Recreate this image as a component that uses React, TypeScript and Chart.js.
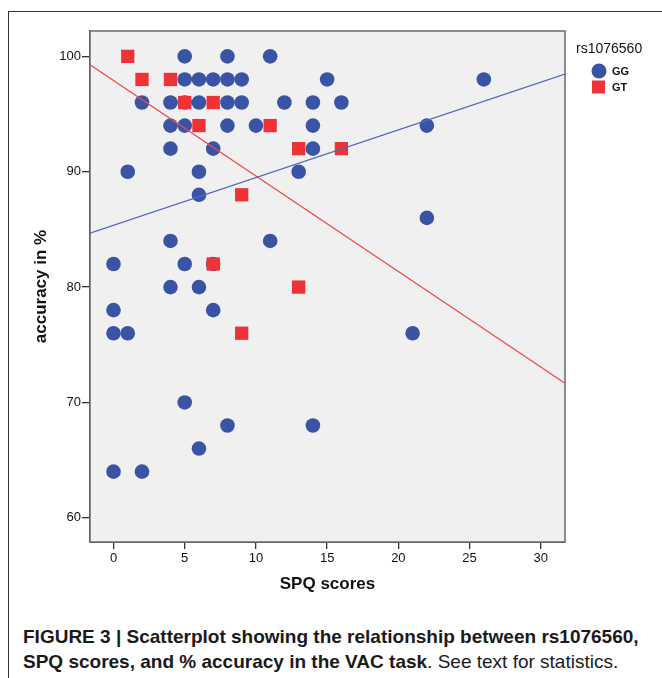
import React, { useEffect, useRef } from "react";
import { Chart, registerables } from "chart.js";

Chart.register(...registerables);

// ---- data ----
const GG_X = [5, 8, 11, 5, 6, 7, 8, 9, 15, 26, 2, 4, 5, 6, 8, 9, 12, 14, 16, 4, 5, 8, 10, 14, 22, 4, 7, 14, 1, 6, 13, 6, 22, 4, 11, 0, 5, 7, 4, 6, 0, 7, 0, 1, 21, 5, 8, 14, 6, 0, 2];
const GG_Y = [100, 100, 100, 98, 98, 98, 98, 98, 98, 98, 96, 96, 96, 96, 96, 96, 96, 96, 96, 94, 94, 94, 94, 94, 94, 92, 92, 92, 90, 90, 90, 88, 86, 84, 84, 82, 82, 82, 80, 80, 78, 78, 76, 76, 76, 70, 68, 68, 66, 64, 64];
const GT_X = [1, 2, 4, 5, 7, 6, 11, 13, 16, 9, 7, 13, 9];
const GT_Y = [100, 98, 98, 96, 96, 94, 94, 92, 92, 88, 82, 80, 76];

// fitted regression lines [slope, intercept]
const GG_FIT = [0.4135, 85.36];
const GT_FIT = [-0.828, 97.91];

const SERIES_NAMES = ["GG", "GT"];
const LEGEND_TITLE = "rs1076560";
const X_TICKS = [0, 5, 10, 15, 20, 25, 30];
const Y_TICKS = [60, 70, 80, 90, 100];
const X_MIN = -1.65;
const X_MAX = 31.7;
const Y_MIN = 57.9;
const Y_MAX = 102.2;
const X_TITLE = "SPQ scores";
const Y_TITLE = "accuracy in %";

const BLUE = "#3a54a5";
const RED = "#ee3238";
const FONT = "'Liberation Sans', Arial, Helvetica, sans-serif";

const zip = (xs: number[], ys: number[]) => xs.map((x, i) => ({ x, y: ys[i] }));
const fitLine = (f: number[]) => [
  { x: X_MIN, y: f[0] * X_MIN + f[1] },
  { x: X_MAX, y: f[0] * X_MAX + f[1] },
];

const frameAndLegend = {
  id: "frameAndLegend",
  beforeDatasetsDraw(chart: any) {
    const { ctx, chartArea: a } = chart;
    ctx.save();
    ctx.fillStyle = "#f0f0f0";
    ctx.fillRect(a.left, a.top, a.right - a.left, a.bottom - a.top);
    ctx.strokeStyle = "#6a6a6a";
    ctx.lineWidth = 1.5;
    ctx.strokeRect(a.left, a.top, a.right - a.left, a.bottom - a.top);
    ctx.restore();
  },
  afterDraw(chart: any) {
    const { ctx } = chart;
    ctx.save();
    ctx.fillStyle = "#111";
    ctx.textBaseline = "middle";
    ctx.textAlign = "left";
    ctx.font = `14px ${FONT}`;
    ctx.fillText(LEGEND_TITLE, 576, 49);
    const ds = chart.data.datasets.filter((d: any) => SERIES_NAMES.includes(d.label));
    ds.forEach((d: any, i: number) => {
      const cy = 71 + i * 16;
      ctx.fillStyle = d.backgroundColor;
      if (d.pointStyle === "rect") {
        ctx.fillRect(592, cy - 6.5, 13, 13);
      } else {
        ctx.beginPath();
        ctx.arc(599, cy, 7.5, 0, Math.PI * 2);
        ctx.fill();
      }
      ctx.fillStyle = "#111";
      ctx.font = `bold 11px ${FONT}`;
      ctx.fillText(d.label, 612, cy + 0.5);
    });
    ctx.restore();
  },
};

function ScatterChart() {
  const ref = useRef<HTMLCanvasElement | null>(null);
  useEffect(() => {
    if (!ref.current) return;
    const chart = new Chart(ref.current, {
      type: "scatter",
      data: {
        datasets: [
          {
            label: "GG fit",
            type: "line",
            data: fitLine(GG_FIT),
            borderColor: "#5069bb",
            borderWidth: 1.3,
            pointRadius: 0,
            fill: false,
            order: 0,
          } as any,
          {
            label: "GT fit",
            type: "line",
            data: fitLine(GT_FIT),
            borderColor: "#f04a50",
            borderWidth: 1.3,
            pointRadius: 0,
            fill: false,
            order: 0,
          } as any,
          {
            label: SERIES_NAMES[0],
            data: zip(GG_X, GG_Y),
            backgroundColor: BLUE,
            borderColor: BLUE,
            pointStyle: "circle",
            pointRadius: 7.3,
            pointBorderWidth: 0,
            order: 2,
          },
          {
            label: SERIES_NAMES[1],
            data: zip(GT_X, GT_Y),
            backgroundColor: RED,
            borderColor: RED,
            pointStyle: "rect",
            pointRadius: 9.4,
            pointBorderWidth: 0,
            order: 1,
          },
        ],
      },
      options: {
        animation: false,
        responsive: false,
        devicePixelRatio: 1,
        layout: { padding: { left: 0, top: 31, right: 97, bottom: 0 } },
        plugins: { legend: { display: false }, tooltip: { enabled: false } },
        font: { family: FONT },
        scales: {
          x: {
            type: "linear",
            min: X_MIN,
            max: X_MAX,
            afterBuildTicks: (s: any) => {
              s.ticks = X_TICKS.map((v) => ({ value: v }));
            },
            afterFit: (s: any) => {
              s.height = 68;
            },
            grid: { drawOnChartArea: false, drawTicks: true, tickLength: 7, color: "#333", lineWidth: 1.3 },
            border: { display: true, color: "#555", width: 1 },
            ticks: { color: "#111", font: { family: FONT, size: 13 }, padding: 2, maxRotation: 0 },
            title: {
              display: true,
              text: X_TITLE,
              color: "#111",
              font: { family: FONT, size: 17, weight: "bold" },
              padding: { top: 0, bottom: 15 },
            },
          },
          y: {
            type: "linear",
            min: Y_MIN,
            max: Y_MAX,
            afterBuildTicks: (s: any) => {
              s.ticks = Y_TICKS.map((v) => ({ value: v }));
            },
            afterFit: (s: any) => {
              s.width = 90;
            },
            grid: { drawOnChartArea: false, drawTicks: true, tickLength: 8, color: "#333", lineWidth: 1.3 },
            border: { display: true, color: "#444", width: 1.3 },
            ticks: { color: "#111", font: { family: FONT, size: 13 }, padding: 1 },
            title: {
              display: true,
              text: Y_TITLE,
              color: "#111",
              font: { family: FONT, size: 17, weight: "bold" },
              padding: { top: 31, bottom: 0 },
            },
          },
        },
      } as any,
      plugins: [frameAndLegend],
    });
    return () => chart.destroy();
  }, []);
  return (
    <canvas
      ref={ref}
      width={662}
      height={610}
      style={{ position: "absolute", left: 0, top: 0, width: 662, height: 610 }}
    />
  );
}

export default function App() {
  return (
    <div style={{ position: "absolute", left: 0, top: 0, width: 662, height: 678, overflow: "hidden", background: "#fff" }}>
      <div
        style={{
          position: "absolute",
          left: 8,
          top: 11,
          width: 700,
          height: 720,
          borderLeft: "1px solid #333",
          borderTop: "1px solid #333",
        }}
      />
      <ScatterChart />
      <div
        style={{
          position: "absolute",
          left: 23,
          top: 624,
          fontFamily: FONT,
          fontSize: 19,
          lineHeight: "25px",
          color: "#1a1a1a",
          whiteSpace: "nowrap",
        }}
      >
        <div style={{ fontWeight: "bold" }}>FIGURE 3 | Scatterplot showing the relationship between rs1076560,</div>
        <div>
          <span style={{ fontWeight: "bold" }}>SPQ scores, and % accuracy in the VAC task</span>. See text for statistics.
        </div>
      </div>
    </div>
  );
}
